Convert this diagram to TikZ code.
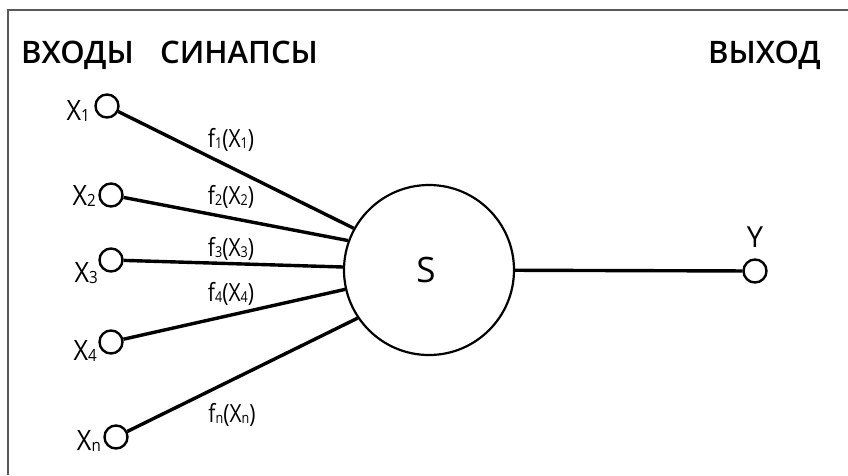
\documentclass[tikz,border=0pt]{standalone}
\usepackage{fontspec}
\setmainfont{Open Sans}
\newfontfamily\headfont{Open Sans}[UprightFont=* Semibold]
\newfontfamily\condfont{Open Sans}[FakeStretch=0.84]
\newfontfamily\labfont{Open Sans}[FakeStretch=0.9]
\newcommand\lowsub[1]{\raisebox{-0.04em}{\scalebox{0.6}{#1}}}
\tikzset{
  frameline/.style={draw=black!65, line width=2pt},
  port/.style={circle, draw, line width=2.4pt, minimum size=23pt, inner sep=0pt},
  soma/.style={circle, draw, line width=2.2pt, minimum size=170pt, inner sep=0pt},
  synapse/.style={line width=3.4pt},
  head/.style={font=\headfont\fontsize{31}{31}\selectfont, inner sep=0pt},
  inlab/.style={font=\labfont\fontsize{28}{28}\selectfont, inner sep=0pt, anchor=base east},
  flab/.style={font=\condfont\fontsize{25}{25}\selectfont, inner sep=0pt, anchor=base},
}
\begin{document}
\begin{tikzpicture}[x=1pt, y=-1pt]
\useasboundingbox (0,0) rectangle (848,475);
\fill[white] (0,0) rectangle (848,475);
% frame
\draw[frameline] (8,475) -- (8,10) -- (848,10);
% headings
\node[head, anchor=base west] (hin)  at (21,63)  {ВХОДЫ};
\node[head, anchor=base west] (hsyn) at (160,63) {СИНАПСЫ};
\node[head, anchor=base east] (hout) at (821,63) {ВЫХОД};
% neuron body
\node[soma] (S) at (429,270) {};
\node[font=\fontsize{35}{35}\selectfont, inner sep=0pt] (sl) at (426,270) {S};
% inputs
\node[port] (x1) at (107,106) {};
\node[port] (x2) at (111,195) {};
\node[port] (x3) at (111,260) {};
\node[port] (x4) at (111,342) {};
\node[port] (xn) at (116,437) {};
\node[inlab] (lx1) at (90,120) {X\lowsub{1}};
\node[inlab] (lx2) at (96,205) {X\lowsub{2}};
\node[inlab] (lx3) at (98,282) {X\lowsub{3}};
\node[inlab] (lx4) at (97,360) {X\lowsub{4}};
\node[inlab] (lxn) at (101,450) {X\lowsub{n}};
% synapses
\draw[synapse] (x1) -- (S.151);
\draw[synapse] (x2) -- (S.160);
\draw[synapse] (x3) -- (S.178);
\draw[synapse] (x4) -- (S.193);
\draw[synapse] (xn) -- (S.214);
\node[flab] (f1) at (231,147) {f\lowsub{1}(X\lowsub{1})};
\node[flab] (f2) at (231,204) {f\lowsub{2}(X\lowsub{2})};
\node[flab] (f3) at (231,256) {f\lowsub{3}(X\lowsub{3})};
\node[flab] (f4) at (231,301) {f\lowsub{4}(X\lowsub{4})};
\node[flab] (fn) at (232,422) {f\lowsub{n}(X\lowsub{n})};
% output
\node[port] (y) at (755,271) {};
\node[font=\fontsize{29}{29}\selectfont, inner sep=0pt, anchor=base] (ly) at (755,247) {Y};
\draw[synapse] (S) -- (y);
\end{tikzpicture}
\end{document}
